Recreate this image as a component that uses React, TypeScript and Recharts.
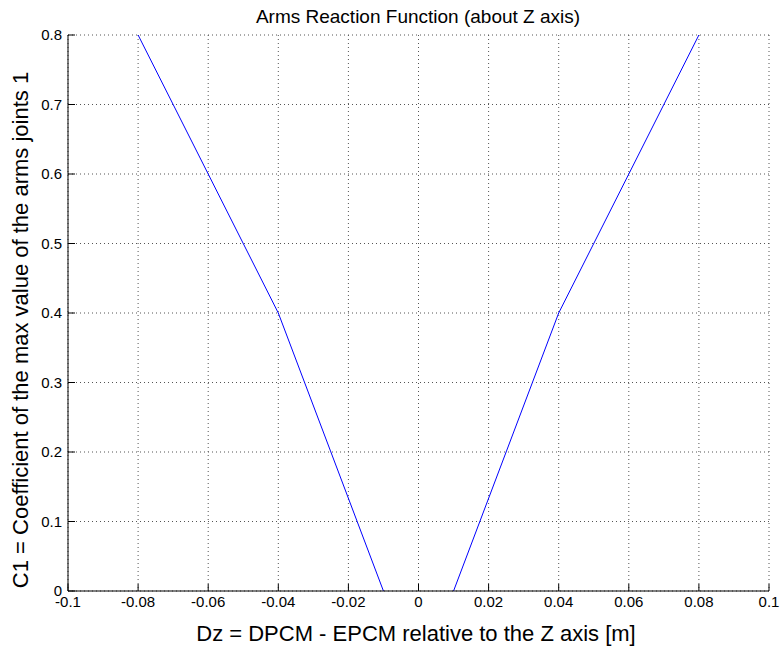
import React from 'react';
import { CartesianGrid, Line, LineChart, XAxis, YAxis } from 'recharts';

// Dz [m] and C1
const leftDz = [-0.08, -0.06, -0.04, -0.01];
const leftC1 = [0.8, 0.6, 0.4, 0];
const rightDz = [0.01, 0.04, 0.06, 0.08];
const rightC1 = [0, 0.4, 0.6, 0.8];

const xTicks = [-0.1, -0.08, -0.06, -0.04, -0.02, 0, 0.02, 0.04, 0.06, 0.08, 0.1];
const yTicks = [0, 0.1, 0.2, 0.3, 0.4, 0.5, 0.6, 0.7, 0.8];

const FONT = '"Liberation Sans", Arial, Helvetica, sans-serif';
const TICK_LEN = 7;

const data = [
  ...leftDz.map((x, i) => ({ x, c1: leftC1[i] })),
  { x: 0, c1: null },
  ...rightDz.map((x, i) => ({ x, c1: rightC1[i] })),
];

const fmt = (v: number) => {
  const r = Math.round(v * 100) / 100;
  return r === 0 ? '0' : String(r);
};

function BottomTick({ x, y, payload }: any) {
  return (
    <g>
      <line x1={x} x2={x} y1={y} y2={y - TICK_LEN} stroke="#000" />
      <text x={x} y={y + 16} textAnchor="middle" fontSize={15} fontFamily={FONT} fill="#000">
        {fmt(payload.value)}
      </text>
    </g>
  );
}

function TopTick({ x, y }: any) {
  return <line x1={x} x2={x} y1={y} y2={y + TICK_LEN} stroke="#000" />;
}

function LeftTick({ x, y, payload }: any) {
  return (
    <g>
      <line x1={x} x2={x + TICK_LEN} y1={y} y2={y} stroke="#000" />
      <text x={x - 6} y={y + 5} textAnchor="end" fontSize={15} fontFamily={FONT} fill="#000">
        {fmt(payload.value)}
      </text>
    </g>
  );
}

function RightTick({ x, y }: any) {
  return <line x1={x} x2={x - TICK_LEN} y1={y} y2={y} stroke="#000" />;
}

export default function App() {
  return (
    <div style={{ position: 'absolute', left: 0, top: 0, width: 784, height: 652, background: '#fff' }}>
      <LineChart
        width={784}
        height={652}
        data={data}
        margin={{ top: 35, right: 15, bottom: 0, left: 0 }}
      >
        <text x={418} y={23} textAnchor="middle" fontSize={19} fontFamily={FONT} fill="#000">
          Arms Reaction Function (about Z axis)
        </text>
        <text x={416} y={641} textAnchor="middle" fontSize={22} fontFamily={FONT} fill="#000">
          Dz = DPCM - EPCM relative to the Z axis [m]
        </text>
        <text
          x={28}
          y={330}
          textAnchor="middle"
          fontSize={22}
          fontFamily={FONT}
          fill="#000"
          transform="rotate(-90 28 330)"
        >
          C1 = Coefficient of the max value of the arms joints 1
        </text>
        <CartesianGrid stroke="#555" strokeDasharray="1 3" />
        <XAxis
          dataKey="x"
          type="number"
          domain={[-0.1, 0.1]}
          ticks={xTicks}
          interval={0}
          allowDataOverflow
          height={61}
          tickSize={0}
          tickMargin={0}
          tick={<BottomTick />}
          stroke="#000"
        />
        <XAxis
          xAxisId="top"
          orientation="top"
          dataKey="x"
          type="number"
          domain={[-0.1, 0.1]}
          ticks={xTicks}
          interval={0}
          height={0}
          tickSize={0}
          tickMargin={0}
          tick={<TopTick />}
          stroke="#000"
        />
        <YAxis
          type="number"
          domain={[0, 0.8]}
          ticks={yTicks}
          interval={0}
          allowDataOverflow
          width={68}
          tickSize={0}
          tickMargin={0}
          tick={<LeftTick />}
          stroke="#000"
        />
        <YAxis
          yAxisId="right"
          orientation="right"
          type="number"
          domain={[0, 0.8]}
          ticks={yTicks}
          interval={0}
          width={0}
          tickSize={0}
          tickMargin={0}
          tick={<RightTick />}
          stroke="#000"
        />
        <Line
          dataKey="c1"
          stroke="#0000ff"
          strokeWidth={1}
          dot={false}
          connectNulls={false}
          isAnimationActive={false}
        />
      </LineChart>
    </div>
  );
}
